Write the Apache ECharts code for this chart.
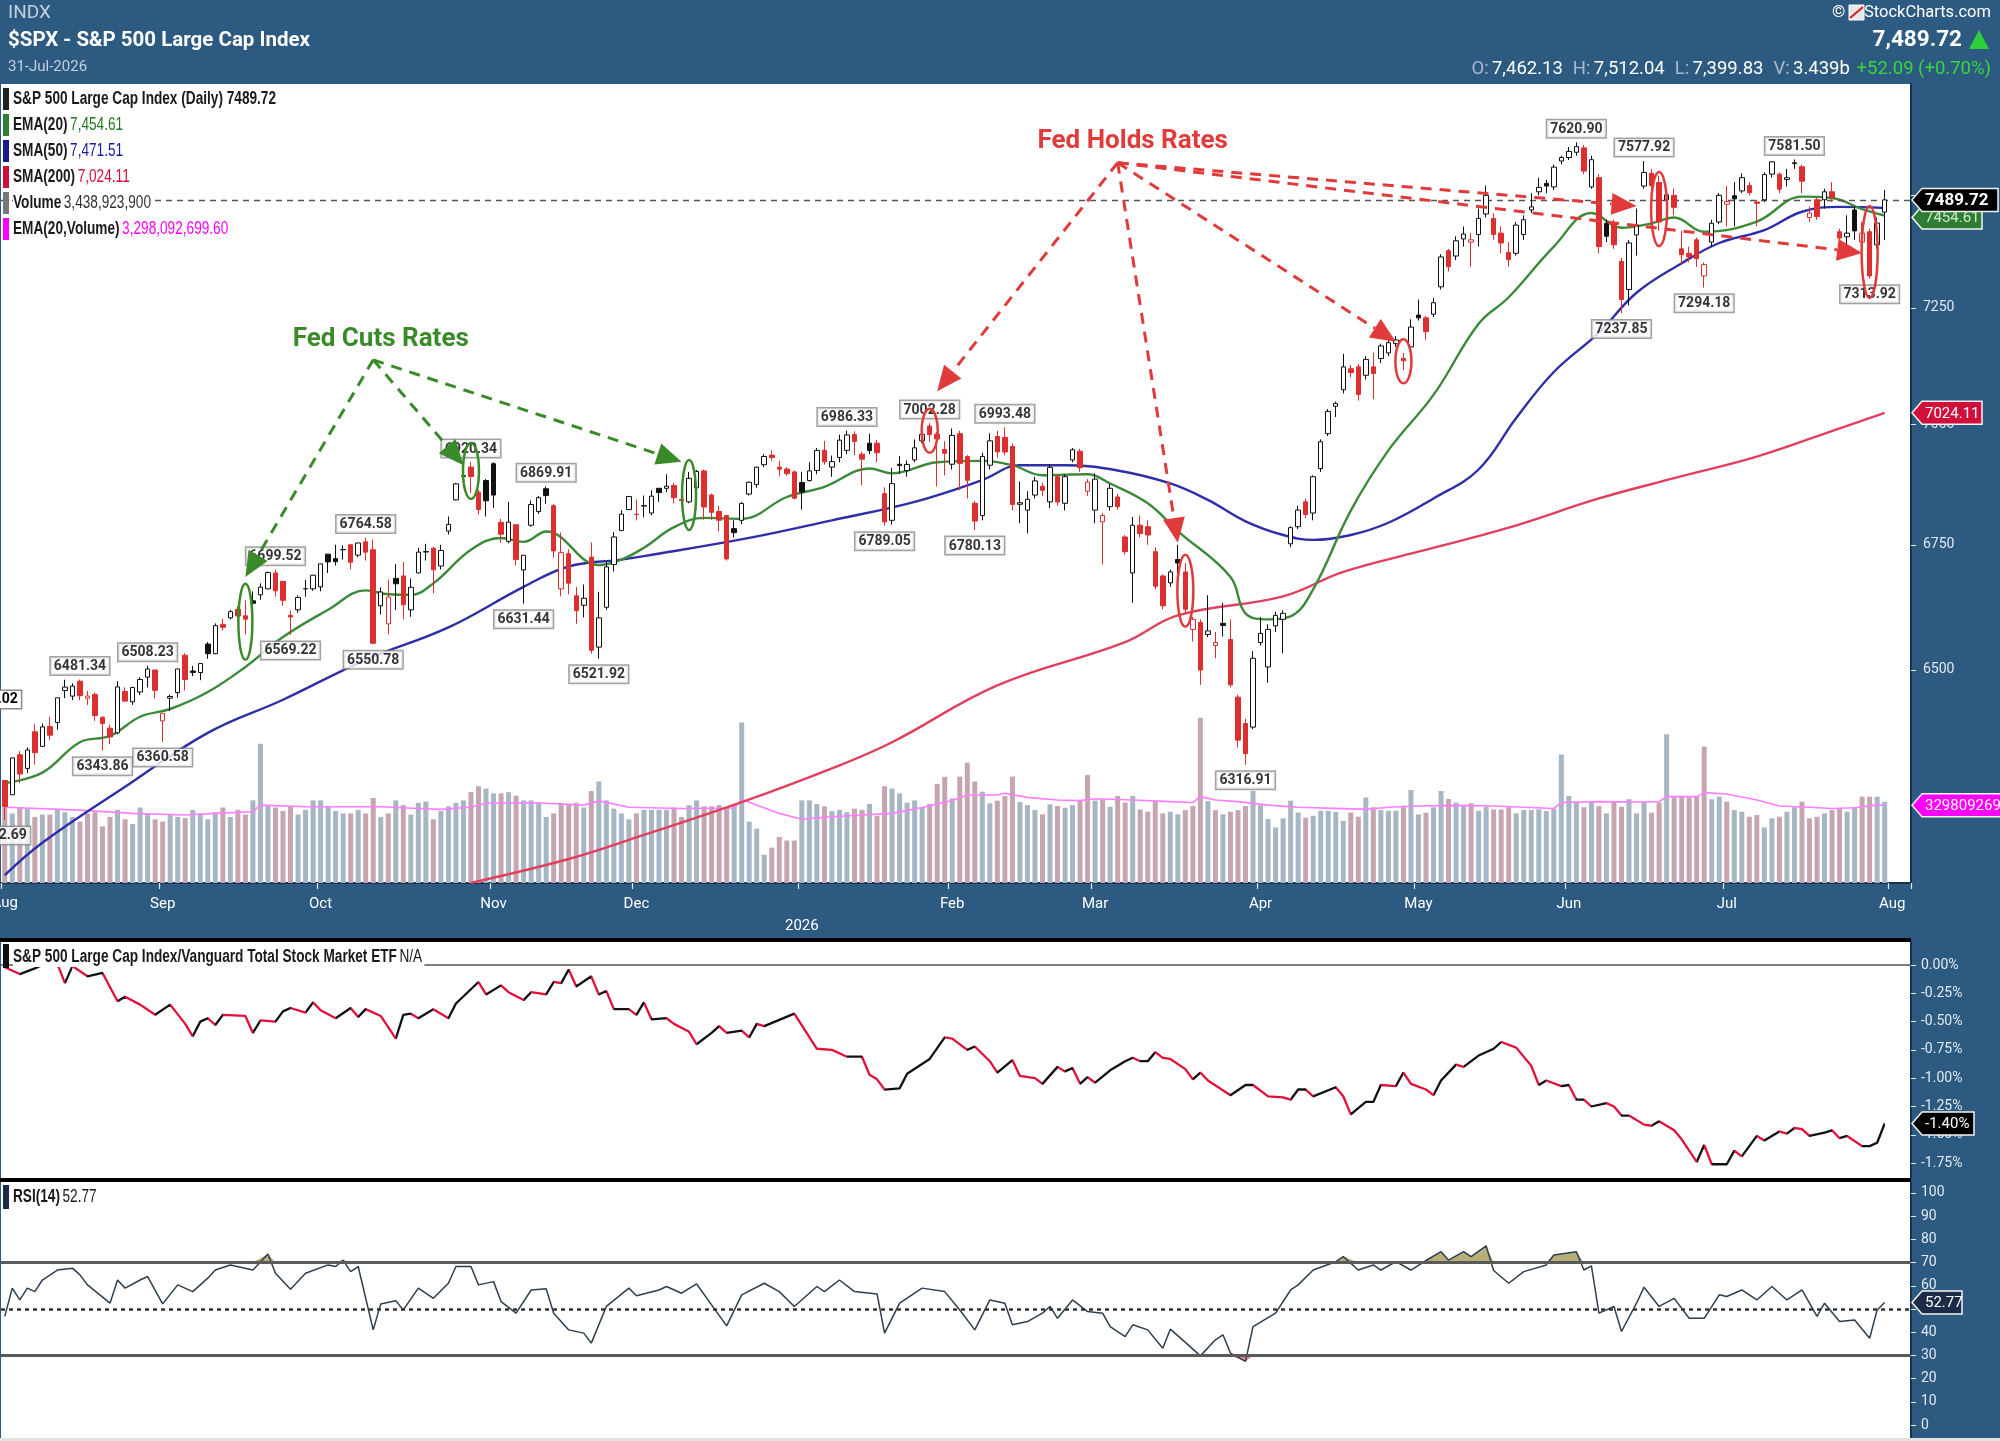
<!DOCTYPE html>
<html>
<head>
<meta charset="utf-8">
<title>$SPX - S&amp;P 500 Large Cap Index</title>
<script src="https://cdn.jsdelivr.net/npm/echarts@6/dist/echarts.min.js"></script>
<style>
  html, body { margin: 0; padding: 0; background: #2d5a81; }
  #chart { width: 2000px; height: 1441px; }
</style>
</head>
<body>
<div id="chart"></div>
<script>
// ---- values (daily bars 1-Aug-2025 .. 31-Jul-2026) ----
var opens = [
  6287,6260,6336,6310,6380,6352,6390,6398,6460,6449,
  6478,6445,6452,6408,6387,6378,6458,6438,6457,6486,
  6500,6401,6445,6456,6529,6498,6495,6551,6532,6590,
  6603,6620,6607,6637,6649,6661,6693,6676,6608,6619,
  6661,6661,6665,6731,6722,6740,6750,6729,6756,6740,
  6627,6591,6682,6687,6619,6693,6736,6743,6707,6778,
  6842,6892,6910,6858,6882,6917,6796,6757,6791,6699,
  6790,6818,6865,6830,6661,6732,6647,6628,6725,6545,
  6624,6710,6779,6822,6812,6830,6815,6866,6866,6872,
  6843,6838,6867,6902,6852,6818,6810,6783,6800,6854,
  6874,6915,6935,6910,6906,6900,6878,6882,6903,6945,
  6910,6930,6945,6978,6937,6960,6960,6855,6800,6916,
  6903,6925,6965,6996,6979,6947,6916,6980,6932,6835,
  6810,6914,6974,6972,6953,6833,6821,6852,6870,6838,
  6890,6835,6925,6943,6860,6821,6797,6828,6848,6766,
  6693,6790,6787,6736,6687,6673,6720,6695,6580,6594,
  6570,6548,6592,6560,6447,6396,6389,6554,6506,6587,
  6600,6752,6787,6838,6815,6907,6980,7038,7073,7118,
  7122,7104,7122,7140,7152,7172,7140,7165,7234,7228,
  7236,7296,7376,7364,7402,7395,7412,7458,7448,7415,
  7372,7370,7412,7467,7508,7527,7519,7578,7586,7598,
  7608,7519,7540,7437,7437,7352,7290,7411,7521,7550,
  7529,7490,7500,7380,7370,7400,7320,7395,7440,7480,
  7499,7510,7522,7485,7490,7548,7548,7536,7572,7565,
  7450,7490,7490,7508,7418,7407,7467,7395,7418,7389,
  7462.13
];
var highs = [
  6288,6330,6343,6350,6395,6396,6409,6446,6481,6474,
  6481.34,6459,6456,6410,6394,6478,6466,6467,6486,6508.23,
  6500,6416,6452,6502,6533,6508,6513,6555,6592,6601,
  6619,6626,6638,6656,6672,6696,6699.52,6676,6618,6648,
  6679,6689,6711,6731,6750,6749,6752,6754,6764.58,6761,
  6664,6680,6711,6715,6682,6744,6752,6746,6750,6808,
  6877,6899,6920.34,6863,6885,6920,6803,6838,6791,6729,
  6841,6850,6869.91,6834,6775,6741,6665,6670,6755,6655,
  6716,6776,6821,6849,6843,6851,6862,6866,6895,6877,
  6865,6900,6904,6905,6855,6830,6811,6800,6838,6880,
  6911,6937,6945,6923,6910,6903,6900,6920,6950,6965,
  6934,6978,6986.33,6985,6942,6980,6967,6868,6908,6933,
  6924,6968,6988,7002.28,6983,6964,6991,6986,6935,6840,
  6940,6981,6986,6993.48,6960,6880,6860,6890,6878,6915,
  6895,6895,6950,6948,6885,6897,6815,6875,6855,6770,
  6807,6810,6800,6745,6690,6700,6750,6713,6605,6600,
  6648,6575,6633,6600,6452,6405,6537,6605,6590,6615,
  6618,6788,6830,6845,6893,6968,7032,7048,7150,7126,
  7128,7145,7153,7172,7180,7188,7152,7225,7268,7232,
  7272,7368,7380,7408,7430,7415,7470,7522,7460,7430,
  7395,7440,7455,7505,7540,7535,7570,7590,7610,7620.90,
  7615,7590,7548,7445,7445,7360,7400,7470,7577.92,7560,
  7545,7510,7515,7420,7385,7405,7350,7445,7505,7521,
  7530,7550,7530,7490,7552,7577,7552,7560,7581.50,7570,
  7475,7495,7515,7530,7425,7455,7475,7440,7425,7450,
  7512.04
];
var lows = [
  6212.69,6260,6282,6301,6317,6352,6364,6384,6445,6441,
  6441,6432,6401,6343.86,6356,6375,6438,6432,6451,6466,
  6444,6360.58,6420,6446,6460,6488,6480,6522,6531,6578,
  6600,6603,6570,6611,6639,6660,6645,6627,6569.22,6613,
  6645,6657,6656,6693,6708,6720,6700,6725,6718,6550.78,
  6610,6570,6619,6600,6605,6692,6718,6652,6700,6771,
  6841,6868,6856,6812,6808,6825,6754,6753,6708,6631.44,
  6787,6813,6834,6724,6646,6650,6591,6604,6532,6521.92,
  6619,6696,6779,6822,6800,6806,6810,6838,6858,6835,
  6838,6835,6836,6801,6801,6778,6718,6765,6792,6851,
  6867,6910,6923,6891,6892,6843,6822,6880,6895,6915,
  6890,6920,6937,6935,6872,6937,6920,6789.05,6791,6896,
  6890,6920,6960,6963,6870,6893,6905,6862,6845,6780.13,
  6800,6905,6930,6935,6820,6794,6773,6845,6850,6825,
  6830,6820,6920,6900,6850,6794,6710,6820,6822,6730,
  6633,6765,6750,6660,6620,6665,6673,6610,6556,6471,
  6565,6523,6566,6466,6350,6316.91,6385,6548,6475,6575,
  6533,6745,6782,6805,6800,6900,6975,7015,7065,7100,
  7050,7095,7053,7130,7145,7165,7115,7160,7222,7180,
  7230,7290,7330,7355,7385,7340,7385,7450,7400,7370,
  7340,7365,7400,7460,7500,7505,7512,7570,7580,7590,
  7548,7515,7370,7395,7380,7237.85,7255,7365,7515,7505,
  7420,7470,7455,7345,7350,7340,7294.18,7385,7435,7430,
  7430,7505,7500,7430,7485,7540,7505,7520,7560,7505,
  7440,7445,7470,7485,7395,7385,7400,7380,7313.92,7380,
  7399.83
];
var closes = [
  6238.01,6329.94,6299.19,6345.06,6340.00,6389.45,6373.45,6445.76,6466.58,6468.54,
  6449.80,6449.15,6411.37,6395.78,6370.17,6466.91,6439.32,6465.94,6481.40,6501.86,
  6460.26,6415.54,6448.26,6502.08,6481.50,6495.15,6512.61,6532.04,6587.47,6584.29,
  6615.28,6606.76,6600.35,6631.96,6664.36,6693.75,6656.92,6637.97,6604.72,6643.70,
  6661.21,6688.46,6711.20,6715.35,6715.79,6740.28,6714.59,6753.72,6735.11,6552.51,
  6654.72,6644.31,6671.06,6629.07,6664.01,6735.13,6735.35,6699.40,6738.44,6791.69,
  6875.16,6890.89,6890.59,6822.34,6840.20,6851.97,6771.55,6796.29,6720.32,6728.80,
  6832.43,6846.61,6850.92,6737.49,6734.11,6672.41,6617.32,6642.16,6538.76,6602.99,
  6705.12,6765.88,6812.61,6849.09,6812.63,6829.37,6849.72,6857.12,6870.40,6846.51,
  6840.51,6886.68,6901.00,6827.41,6816.51,6800.26,6721.43,6774.76,6834.50,6878.49,
  6909.79,6932.05,6929.94,6905.74,6896.24,6845.50,6858.47,6902.05,6944.82,6920.93,
  6921.46,6966.28,6977.27,6963.74,6926.60,6944.47,6940.01,6796.86,6875.62,6913.35,
  6915.61,6950.23,6978.60,6978.03,6969.01,6939.03,6976.44,6917.81,6882.72,6798.40,
  6932.30,6964.82,6941.81,6941.47,6832.76,6836.17,6843.22,6881.31,6861.89,6909.51,
  6837.75,6890.07,6946.13,6908.86,6878.88,6885,6810,6866,6828,6736,
  6790,6773,6770,6666,6627,6695,6713,6620,6600,6500,
  6577,6554,6588,6471,6364,6338,6523,6572,6580,6608,
  6612,6785,6821,6812,6890,6963,7027,7044,7122,7110,
  7063,7138,7108,7167,7174,7180,7135,7208,7228,7198,
  7261,7362,7340,7398,7413,7400,7448,7500,7412,7393,
  7356,7433,7445,7474,7518,7521,7564,7586,7600,7611,
  7555,7581,7385,7408,7389,7268,7393,7433,7552,7522,
  7440,7501,7473,7367,7362,7358,7345,7437,7500,7486,
  7492,7540,7506,7482,7547,7576,7514,7540,7574,7532,
  7460,7452,7508,7495,7404,7415,7420,7415,7320,7437.63,
  7489.72
];
// volume, billions of shares
var volumes = [
  3.2,2.95,3.2,3.15,2.8,2.9,2.9,3.1,3.0,2.8,
  2.6,2.95,3.0,2.4,2.8,3.1,2.7,2.5,3.2,2.95,
  2.7,2.6,2.9,2.8,2.75,3.1,2.95,2.7,3.0,3.2,
  2.8,3.1,2.9,3.5,5.9,3.3,3.2,3.05,3.25,2.9,
  3.1,3.5,3.5,3.25,3.05,2.95,2.95,3.1,2.95,3.6,
  2.8,2.95,3.5,3.3,2.9,3.4,3.45,2.7,3.05,3.25,
  3.4,3.5,3.85,4.1,4.0,3.8,3.8,3.85,3.7,3.5,
  3.5,3.4,2.8,2.95,3.4,3.35,3.4,3.2,3.9,4.3,
  3.5,3.15,2.95,2.7,2.95,3.1,3.1,3.1,3.1,3.2,
  2.8,3.3,3.5,3.25,3.25,3.3,3.2,3.3,6.8,2.6,
  2.3,1.2,1.5,1.95,1.8,1.8,3.5,3.5,3.35,3.25,
  3.05,3.1,3.0,3.15,3.1,3.35,2.85,4.1,4.0,3.8,
  3.4,3.5,3.2,3.35,4.2,4.5,3.59,4.51,5.10,4.30,
  3.87,3.38,3.49,3.69,4.51,3.43,3.30,3.09,2.91,3.33,
  3.26,3.19,3.30,3.52,4.58,3.49,3.55,3.23,3.69,3.41,
  3.69,3.12,3.02,3.47,2.95,3.02,2.91,3.09,3.26,7.00,
  3.47,3.09,2.91,3.02,3.09,3.26,3.90,3.30,2.71,2.36,
  2.74,3.49,2.99,2.77,2.85,3.06,3.06,3.01,2.63,2.99,
  2.81,3.62,3.21,3.09,3.06,3.06,3.28,3.94,2.91,2.98,
  3.21,3.90,3.56,3.41,3.30,3.38,3.06,3.23,3.12,3.12,
  3.21,2.95,3.09,3.09,3.12,3.05,3.15,5.45,3.69,3.45,
  3.21,3.45,3.26,2.95,3.45,3.23,3.55,2.95,3.45,2.98,
  3.41,6.30,3.66,3.66,3.63,3.66,5.78,3.55,3.66,3.45,
  3.09,3.02,2.81,2.88,2.36,2.74,2.81,3.02,3.21,3.45,
  2.74,2.81,2.95,3.09,3.16,3.02,3.21,3.66,3.66,3.66,
  3.44
];
// overlays, [bar index, value]
var ema20 = [[0,6282],[5,6302],[10,6360],[14,6372],[18,6409],[22,6424],[27,6457],[32,6506],[37,6565],[43,6619],[48,6658],[51,6650],[54,6649],[57,6672],[62,6740],[66,6764],[69,6756],[72,6777],[79,6709],[82,6720],[85,6744],[89,6786],[93,6805],[98,6803],[104,6848],[109,6869],[115,6907],[118,6897],[124,6920],[130,6923],[134,6914],[138,6893],[144,6895],[147,6876],[152,6835],[156,6778],[163,6685],[165,6612],[168,6600],[171,6606],[174,6660],[179,6820],[184,6945],[190,7062],[196,7215],[200,7273],[206,7385],[211,7460],[215,7427],[219,7437],[222,7450],[226,7418],[233,7441],[239,7497],[243,7494],[247,7469],[250,7454.61]];
var sma50 = [[0,6110],[5,6170],[16,6275],[27,6378],[37,6442],[48,6520],[59,6584],[69,6665],[75,6706],[82,6720],[85,6727],[99,6764],[110,6800],[121,6838],[130,6883],[135,6914],[141,6914],[148,6903],[155,6876],[160,6842],[165,6798],[170,6770],[174,6760],[179,6770],[184,6795],[190,6845],[196,6905],[201,7013],[206,7111],[212,7196],[217,7283],[223,7348],[228,7393],[234,7422],[239,7463],[244,7474],[250,7471.51]];
var sma200 = [[62,6096],[75,6140],[84,6180],[98,6246],[110,6310],[118,6360],[132,6470],[149,6555],[156,6608],[170,6646],[178,6695],[188,6736],[200,6785],[212,6845],[222,6887],[233,6932],[242,6980],[250,7024.11]];
var volEma20 = [[0,3.21],[10,3.09],[17,2.95],[24,2.88],[28,2.95],[33,3.02],[34,3.30],[40,3.23],[50,3.23],[55,3.16],[58,3.12],[62,3.21],[64,3.38],[70,3.40],[72,3.38],[77,3.30],[79,3.48],[83,3.21],[90,3.16],[97,3.18],[98,3.54],[103,2.95],[106,2.70],[110,2.81],[114,2.88],[118,2.95],[122,3.2],[126,3.5],[128,3.73],[132,3.73],[133,3.80],[136,3.63],[140,3.52],[143,3.49],[145,3.57],[150,3.52],[155,3.45],[158,3.41],[159,3.66],[161,3.52],[164,3.45],[168,3.30],[172,3.21],[178,3.15],[181,3.12],[184,3.21],[188,3.26],[193,3.29],[198,3.26],[202,3.21],[206,3.16],[207,3.41],[212,3.45],[218,3.43],[220,3.45],[221,3.66],[225,3.66],[226,3.83],[229,3.77],[233,3.52],[236,3.26],[240,3.21],[243,3.16],[246,3.19],[249,3.30],[250,3.298]];
// $SPX / VTI relative, percent
var ratioPts = [[0,-0.02],[2,-0.08],[4,-0.03],[5,0.00],[7,0.01],[8,-0.16],[9,-0.01],[11,-0.10],[13,-0.07],[15,-0.32],[16,-0.28],[18,-0.35],[20,-0.44],[22,-0.35],[24,-0.52],[25,-0.63],[26,-0.50],[27,-0.47],[28,-0.53],[29,-0.44],[32,-0.45],[33,-0.60],[34,-0.49],[36,-0.50],[37,-0.41],[38,-0.38],[40,-0.42],[41,-0.33],[42,-0.40],[44,-0.47],[46,-0.38],[47,-0.46],[48,-0.39],[50,-0.45],[52,-0.65],[53,-0.44],[54,-0.43],[55,-0.47],[57,-0.39],[59,-0.47],[60,-0.34],[63,-0.15],[64,-0.26],[66,-0.18],[67,-0.24],[69,-0.31],[70,-0.24],[72,-0.26],[73,-0.15],[74,-0.16],[75,-0.04],[76,-0.19],[78,-0.10],[79,-0.26],[80,-0.23],[81,-0.39],[83,-0.39],[84,-0.44],[85,-0.33],[86,-0.48],[88,-0.47],[89,-0.52],[91,-0.59],[92,-0.70],[94,-0.60],[95,-0.54],[96,-0.60],[98,-0.58],[99,-0.64],[100,-0.52],[101,-0.54],[105,-0.43],[108,-0.74],[110,-0.75],[112,-0.81],[114,-0.81],[115,-0.97],[116,-1.01],[117,-1.10],[119,-1.09],[120,-0.96],[123,-0.83],[125,-0.64],[126,-0.65],[128,-0.75],[129,-0.72],[131,-0.85],[132,-0.95],[134,-0.84],[135,-0.98],[137,-1.00],[138,-1.05],[140,-0.90],[141,-0.94],[142,-0.91],[143,-1.05],[144,-0.99],[145,-1.04],[147,-0.93],[149,-0.85],[150,-0.82],[151,-0.85],[152,-0.85],[153,-0.77],[154,-0.82],[155,-0.83],[157,-0.92],[158,-1.01],[159,-0.95],[160,-1.02],[163,-1.15],[165,-1.06],[166,-1.06],[168,-1.16],[170,-1.17],[171,-1.19],[172,-1.10],[173,-1.10],[174,-1.16],[177,-1.08],[178,-1.16],[179,-1.32],[181,-1.21],[182,-1.21],[183,-1.06],[185,-1.07],[186,-0.95],[187,-1.05],[189,-1.10],[190,-1.15],[191,-1.02],[193,-0.88],[194,-0.90],[196,-0.80],[198,-0.74],[199,-0.68],[201,-0.73],[203,-0.89],[204,-1.06],[205,-1.02],[207,-1.07],[208,-1.06],[209,-1.19],[210,-1.19],[211,-1.25],[213,-1.22],[214,-1.25],[215,-1.33],[216,-1.33],[218,-1.41],[219,-1.42],[220,-1.38],[222,-1.46],[223,-1.54],[225,-1.74],[226,-1.59],[227,-1.76],[229,-1.76],[230,-1.64],[231,-1.69],[233,-1.51],[234,-1.55],[236,-1.47],[237,-1.49],[238,-1.44],[239,-1.45],[240,-1.51],[242,-1.48],[243,-1.46],[244,-1.53],[245,-1.51],[247,-1.60],[248,-1.60],[249,-1.57],[250,-1.40]];
var rsiPts = [[0,46.8],[1,59.0],[2,53.9],[3,59.0],[4,57.5],[5,62.5],[7,66.8],[9,67.6],[10,64.7],[11,60.4],[14,52.5],[15,62.5],[16,59.0],[18,62.5],[19,64.0],[21,52.2],[23,60.4],[25,57.5],[27,63.3],[28,66.8],[30,69.0],[33,66.8],[35,73.7],[36,65.4],[38,58.5],[40,65.4],[43,69.0],[44,68.3],[45,71.1],[46,66.1],[47,68.3],[49,41.0],[50,52.2],[52,53.6],[53,49.6],[55,59.0],[57,54.6],[59,61.1],[60,68.3],[62,68.3],[63,60.4],[65,61.8],[66,53.2],[68,48.2],[70,58.2],[72,58.7],[73,48.2],[75,41.0],[77,39.6],[78,35.3],[80,51.1],[83,59.0],[84,55.7],[87,58.2],[88,59.7],[90,56.8],[92,60.8],[94,51.8],[96,42.7],[98,56.1],[101,61.1],[103,57.5],[105,51.1],[108,59.7],[109,57.5],[111,62.5],[113,57.5],[116,56.5],[117,39.6],[119,52.5],[122,59.0],[125,57.5],[127,49.6],[129,41.0],[131,53.9],[133,52.5],[134,43.2],[136,44.6],[138,48.2],[139,51.1],[140,46.0],[142,53.9],[144,48.9],[146,48.2],[147,42.4],[149,38.1],[150,43.2],[152,41.0],[154,33.1],[155,41.3],[157,35.6],[159,29.8],[161,36.7],[162,38.9],[163,31.0],[165,27.4],[166,42.4],[169,48.2],[171,58.2],[172,60.4],[174,66.8],[177,70.4],[178,72.6],[180,66.8],[182,69.0],[183,66.8],[185,70.4],[187,66.8],[189,70.9],[191,74.7],[192,71.1],[194,74.7],[195,72.6],[197,77.2],[198,66.6],[200,61.1],[202,66.1],[205,69.0],[206,73.3],[209,74.7],[210,66.8],[211,68.6],[212,48.2],[214,51.1],[215,40.3],[217,52.5],[218,59.4],[220,51.1],[222,54.6],[224,46.0],[226,46.0],[228,56.1],[229,55.4],[231,58.2],[233,53.9],[235,59.7],[237,53.9],[239,58.2],[241,46.8],[242,52.5],[244,44.6],[246,45.3],[248,37.4],[249,49.6],[250,52.77]];
// labelled swing highs / lows
var highLabels = [[10,6481.34],[19,6508.23],[36,6699.52],[48,6764.58],[62,6920.34],[72,6869.91],[112,6986.33],[123,7002.28],[133,6993.48],[209,7620.90],[218,7577.92],[238,7581.50]];
var lowLabels = [[0,6212.69],[13,6343.86],[21,6360.58],[38,6569.22],[49,6550.78],[69,6631.44],[79,6521.92],[117,6789.05],[129,6780.13],[165,6316.91],[215,7237.85],[226,7294.18],[248,7313.92]];
// tick labels
var priceTicks = [6500, 6750, 7000, 7250, 7500];
var ratioTicks = [0, -0.25, -0.5, -0.75, -1, -1.25, -1.5, -1.75];
var rsiTicks = [0, 10, 20, 30, 40, 50, 60, 70, 80, 90, 100];
var monthNames = ['Jan','Feb','Mar','Apr','May','Jun','Jul','Aug','Sep','Oct','Nov','Dec'];
var holidays = ['2025-09-01','2025-11-27','2025-12-25','2026-01-01','2026-01-19','2026-02-16','2026-04-03','2026-05-25','2026-06-19','2026-07-03'];
// FOMC annotations: [bar, price at ellipse centre, rx, ry]
var cutMarks = [[32, 6595, 7, 38], [62, 6902, 8, 28], [91, 6852, 7, 35]];
var holdMarks = [[123, 6986, 8, 22], [157, 6657, 8, 36], [186, 7134, 8, 22], [220, 7469, 8, 37], [248, 7373, 8, 46]];
var cutArrowFrom = [48.7, 7137];
var cutArrowTo = [[32.3, 6685], [61.3, 6914], [90.3, 6921]];
var holdArrowFrom = [148.4, 7574];
var holdArrowTo = [[124.2, 7070], [155.8, 6754], [184.6, 7176], [217.1, 7476], [247.3, 7371]];

// ---- trading-day categories (3 empty August slots on the right) ----
var cats = [];
(function () {
  var d = new Date(Date.UTC(2025, 7, 1));
  while (cats.length < 254) {
    var wd = d.getUTCDay(), s = d.toISOString().slice(0, 10);
    if (wd !== 0 && wd !== 6 && holidays.indexOf(s) < 0) cats.push(s);
    d.setUTCDate(d.getUTCDate() + 1);
  }
})();
function isMonthStart(idx) {
  return idx === 0 || (cats[idx] && cats[idx].slice(5, 7) !== cats[idx - 1].slice(5, 7));
}
function monthLabel(val, idx) {
  if (idx === 0 || !isMonthStart(idx)) return '';   // first one is drawn by hand, half off-canvas
  var m = +cats[idx].slice(5, 7);
  return m === 1 ? '\n' + cats[idx].slice(0, 4) : monthNames[m - 1];
}

// condensed look: plain sans squeezed horizontally to the reference widths
var LF = 'Liberation Sans, Arial, sans-serif';
var LSIZE = 18;
function textWidth(font, s) {
  var c = document.createElement('canvas').getContext('2d');
  c.font = font; return c.measureText(s).width;
}
var squeeze = 263 / textWidth('bold ' + LSIZE + 'px ' + LF, 'S&P 500 Large Cap Index (Daily) 7489.72');

var RED = '#dc2f2f', INK = '#111';
var candleData = closes.map(function (c, i) {
  var o = opens[i];
  var up = i > 0 && c >= closes[i - 1];
  var edge = up ? INK : RED;
  var fill = c >= o ? '#fff' : edge;
  return { value: [o, c, lows[i], highs[i]],
           itemStyle: { color: fill, color0: fill, borderColor: edge, borderColor0: edge, borderWidth: 1 } };
});
var volData = volumes.map(function (v, i) {
  var up = i > 0 && closes[i] >= closes[i - 1];
  return { value: v, itemStyle: { color: up ? '#a7b6c5' : '#c5a6b0' } };
});
var ratioPieces = [];
for (var k = 0; k < ratioPts.length - 1; k++) {
  var a = ratioPts[k], b = ratioPts[k + 1];
  var piece = { gte: a[0], color: b[1] < a[1] ? '#e0103a' : '#111' };
  if (k === ratioPts.length - 2) piece.lte = b[0]; else piece.lt = b[0];
  ratioPieces.push(piece);
}
// RSI bands: stacked bases so the fill sits between the line and 70 / 30
var obBase = rsiPts.map(function (p) { return [p[0], 70]; });
var obTop = rsiPts.map(function (p) { return [p[0], Math.max(p[1] - 70, 0)]; });
var osBase = rsiPts.map(function (p) { return [p[0], Math.min(p[1], 30)]; });
var osTop = rsiPts.map(function (p) { return [p[0], 30 - Math.min(p[1], 30)]; });
var lowData = lowLabels.map(function (p) {
  return p[0] === 0 ? { value: p, label: { offset: [-4, 0] } } : p;
});

var PL = 1, PW = 1910;
var boxLabel = {
  show: true, formatter: function (p) { return p.value[1].toFixed(2); },
  color: '#000', fontWeight: 'bold', fontSize: 14, fontFamily: 'Roboto',
  backgroundColor: '#fff', borderColor: '#8a8a8a', borderWidth: 1.5, padding: [2, 3, 1, 3]
};
var axisText = { color: '#e3e9f0', fontSize: 14, fontFamily: 'Roboto' };
var hidden = { showSymbol: false, silent: true, lineStyle: { width: 0 } };

var chart = echarts.init(document.getElementById('chart'), null, { renderer: 'canvas', width: 2000, height: 1441 });
var option = {
  animation: false,
  backgroundColor: '#2d5a81',
  grid: [
    { left: PL, top: 84, width: PW, height: 799, show: true, backgroundColor: '#fff', borderWidth: 0 },
    { left: PL, top: 84, width: PW, height: 799 },
    { left: PL, top: 942, width: PW, height: 236, show: true, backgroundColor: '#fff', borderWidth: 0 },
    { left: PL, top: 1182, width: PW, height: 256, show: true, backgroundColor: '#fff', borderWidth: 0 }
  ],
  xAxis: [0, 1, 2, 3].map(function (g) {
    return {
      type: 'category', gridIndex: g, data: cats, boundaryGap: true, show: g === 0,
      axisLine: { show: true, lineStyle: { color: '#163452', width: 2 } },
      axisTick: { show: true, interval: isMonthStart, length: 6, lineStyle: { color: '#e3e9f0', width: 1.2 } },
      axisLabel: { show: true, interval: isMonthStart, formatter: monthLabel, color: '#fff',
                   fontSize: 15, fontFamily: 'Roboto', margin: 10, lineHeight: 22 },
      splitLine: { show: false }
    };
  }),
  yAxis: [
    { type: 'log', logBase: 10, gridIndex: 0, position: 'right', min: 6095.7, max: 7756,
      axisLine: { show: true, lineStyle: { color: '#163452', width: 2 } },
      axisTick: { show: true, length: 5, customValues: priceTicks, lineStyle: { color: '#e3e9f0' } },
      axisLabel: Object.assign({ customValues: priceTicks, margin: 12,
                   formatter: function (v) { return String(Math.round(v)); } }, axisText),
      splitLine: { show: false } },
    { type: 'value', gridIndex: 1, min: 0, max: 33.86, show: false, splitLine: { show: false } },
    { type: 'value', gridIndex: 2, position: 'right', min: -1.8816, max: 0.2032,
      axisLine: { show: true, lineStyle: { color: '#163452', width: 2 } },
      axisTick: { show: true, length: 5, customValues: ratioTicks, lineStyle: { color: '#e3e9f0' } },
      axisLabel: Object.assign({ customValues: ratioTicks, margin: 10,
                   formatter: function (v) { return v.toFixed(2) + '%'; } }, axisText),
      splitLine: { show: false } },
    { type: 'value', gridIndex: 3, position: 'right', min: -5.6, max: 104.74,
      axisLine: { show: true, lineStyle: { color: '#163452', width: 2 } },
      axisTick: { show: true, length: 5, customValues: rsiTicks, lineStyle: { color: '#e3e9f0' } },
      axisLabel: Object.assign({ customValues: rsiTicks, margin: 10 }, axisText),
      splitLine: { show: false } }
  ],
  visualMap: [
    { type: 'piecewise', show: false, dimension: 0, seriesIndex: 8, pieces: ratioPieces }
  ],
  series: [
    { type: 'bar', name: 'Volume', xAxisIndex: 1, yAxisIndex: 1, data: volData, barWidth: 5, z: 1 },
    { type: 'line', name: 'EMA(20,Volume)', xAxisIndex: 1, yAxisIndex: 1, data: volEma20, showSymbol: false,
      lineStyle: { color: '#ff7dff', width: 1.6 }, z: 2 },
    { type: 'line', name: 'SMA(200)', data: sma200, showSymbol: false, smooth: 0.4,
      lineStyle: { color: '#e0405e', width: 2.4 }, z: 3 },
    { type: 'line', name: 'SMA(50)', data: sma50, showSymbol: false, smooth: 0.4,
      lineStyle: { color: '#2e2ea8', width: 2.4 }, z: 3 },
    { type: 'line', name: 'EMA(20)', data: ema20, showSymbol: false, smooth: 0.4,
      lineStyle: { color: '#3a8a3a', width: 2.4 }, z: 3 },
    { type: 'candlestick', name: '$SPX', data: candleData, barWidth: 5, z: 5,
      markLine: { silent: true, symbol: 'none', label: { show: false },
                  lineStyle: { type: [6, 5], color: '#555', width: 1.4 },
                  data: [{ yAxis: 7489.72 }] } },
    { type: 'scatter', data: highLabels, symbolSize: 0.1, itemStyle: { color: 'rgba(0,0,0,0)' }, z: 8,
      label: Object.assign({ position: 'top', distance: 5 }, boxLabel) },
    { type: 'scatter', data: lowData, symbolSize: 0.1, itemStyle: { color: 'rgba(0,0,0,0)' }, z: 8,
      label: Object.assign({ position: 'bottom', distance: 7 }, boxLabel) },
    { type: 'line', name: 'ratio', xAxisIndex: 2, yAxisIndex: 2, data: ratioPts, showSymbol: false,
      lineStyle: { width: 2.3 }, z: 4,
      markLine: { silent: true, symbol: 'none', label: { show: false },
                  lineStyle: { type: 'solid', color: '#555', width: 1.6 }, data: [{ yAxis: 0 }] } },
    Object.assign({ type: 'line', xAxisIndex: 3, yAxisIndex: 3, data: obBase, stack: 'ob', z: 2 }, hidden),
    Object.assign({ type: 'line', xAxisIndex: 3, yAxisIndex: 3, data: obTop, stack: 'ob', z: 2,
                    areaStyle: { color: '#b7ae78', opacity: 1 } }, hidden),
    Object.assign({ type: 'line', xAxisIndex: 3, yAxisIndex: 3, data: osBase, stack: 'os', z: 2 }, hidden),
    Object.assign({ type: 'line', xAxisIndex: 3, yAxisIndex: 3, data: osTop, stack: 'os', z: 2,
                    areaStyle: { color: '#e38797', opacity: 1 } }, hidden),
    { type: 'line', name: 'RSI(14)', xAxisIndex: 3, yAxisIndex: 3, data: rsiPts, showSymbol: false,
      lineStyle: { color: '#2c3e50', width: 1.5 }, z: 4,
      markLine: { silent: true, symbol: 'none', label: { show: false },
                  data: [
                    { yAxis: 70, lineStyle: { type: 'solid', color: '#5a5a5a', width: 3 } },
                    { yAxis: 30, lineStyle: { type: 'solid', color: '#5a5a5a', width: 3 } },
                    { yAxis: 50, lineStyle: { type: [4, 4], color: '#333', width: 2.5 } }
                  ] } }
  ]
};
chart.setOption(option);

// ---- overlays placed through the chart's own scales ----
function P(i, v) { return chart.convertToPixel({ xAxisIndex: 0, yAxisIndex: 0 }, [i, v]); }
function Y(ax, v) { return chart.convertToPixel({ yAxisIndex: ax }, v); }
var g = [];
function txt(x, y, text, font, fill, extra) {
  var st = { text: text, x: x, y: y, font: font, fill: fill, textVerticalAlign: 'middle' };
  for (var key in extra) st[key] = extra[key];
  g.push({ type: 'text', z: 200, style: st });
}
function tag(y, text, fill, color, w, font) {
  var x0 = 1912, h = 23, x1 = x0 + w;
  g.push({ type: 'polygon', z: 190, shape: { points: [[x0, y], [x0 + 10, y - h / 2], [x1, y - h / 2], [x1, y + h / 2], [x0 + 10, y + h / 2]] },
           style: { fill: fill, stroke: '#f4f4f4', lineWidth: 1.5 } });
  txt(x0 + 13, y + 1, text, font, color);
}
function arrow(p0, p1, color) {
  var dx = p1[0] - p0[0], dy = p1[1] - p0[1], len = Math.sqrt(dx * dx + dy * dy);
  var ux = dx / len, uy = dy / len, hl = 25, hw = 11;
  var bx = p1[0] - ux * hl, by = p1[1] - uy * hl;
  g.push({ type: 'line', z: 150, shape: { x1: p0[0], y1: p0[1], x2: bx, y2: by },
           style: { stroke: color, lineWidth: 3, lineDash: [11, 8] } });
  g.push({ type: 'polygon', z: 150, shape: { points: [[p1[0], p1[1]], [bx - uy * hw, by + ux * hw], [bx + uy * hw, by - ux * hw]] },
           style: { fill: color } });
}
function ring(m, color) {
  var c = P(m[0], m[1]);
  g.push({ type: 'ellipse', z: 150, shape: { cx: c[0], cy: c[1], rx: m[2], ry: m[3] },
           style: { fill: 'none', stroke: color, lineWidth: 2.5 } });
}
function rs(color, bold) { return { fill: color, fontFamily: LF, fontSize: LSIZE, fontWeight: bold ? 'bold' : 'normal' }; }
function squeezed(x, y, text, rich, bg) {
  var st = { x: 0, y: 0, textVerticalAlign: 'middle', text: text, rich: rich };
  if (bg) { st.backgroundColor = '#fff'; st.padding = [1, 3, 1, 0]; }
  g.push({ type: 'text', z: 200, x: x, y: y, scaleX: squeeze, style: st });
}

// header
txt(8, 13, 'INDX', '19px Roboto', '#c3d0de');
txt(8, 41, '$SPX - S&P 500 Large Cap Index', 'bold 20.5px Roboto', '#fff');
txt(8, 67, '31-Jul-2026', '15px Roboto', '#c3d0de');
txt(1832, 13, '\u00a9', '17px Roboto', '#fff');
g.push({ type: 'rect', z: 200, shape: { x: 1849, y: 5, width: 15, height: 15 }, style: { fill: '#e8e8e8', stroke: '#fff', lineWidth: 1 } });
g.push({ type: 'line', z: 201, shape: { x1: 1850, y1: 18, x2: 1863, y2: 7 }, style: { stroke: '#d02020', lineWidth: 2 } });
txt(1991, 13, 'StockCharts.com', '16.5px Roboto', '#fff', { textAlign: 'right' });
txt(1962, 40, '7,489.72', 'bold 22.5px Roboto', '#fff', { textAlign: 'right' });
g.push({ type: 'polygon', z: 200, shape: { points: [[1969, 49], [1979, 30], [1989, 49]] }, style: { fill: '#2fcf3a' } });
g.push({ type: 'text', z: 200, style: {
  x: 1991, y: 69, textAlign: 'right', textVerticalAlign: 'middle',
  text: '{l|O:} {v|7,462.13}   {l|H:} {v|7,512.04}   {l|L:} {v|7,399.83}   {l|V:} {v|3.439b}  {c|+52.09 (+0.70%)}',
  rich: { l: { fill: '#a9bacb', font: '18.5px Roboto' }, v: { fill: '#fff', font: '18.5px Roboto' }, c: { fill: '#39d739', font: '18.5px Roboto' } }
} });

// panel separators
g.push({ type: 'rect', z: 120, shape: { x: 0, y: 938, width: 1911, height: 4 }, style: { fill: '#000' } });
g.push({ type: 'rect', z: 120, shape: { x: 0, y: 1178, width: 1911, height: 4 }, style: { fill: '#000' } });
g.push({ type: 'rect', z: 120, shape: { x: 0, y: 1438, width: 2000, height: 3 }, style: { fill: '#e2e2e2' } });

// first month label, centred on bar 0 so it runs off the left edge
txt(P(0, 7000)[0], 903, 'Aug', '15px Roboto', '#fff', { textAlign: 'center' });

// legend
var legendRows = [
  ['#222', '{b|S&P 500 Large Cap Index (Daily) 7489.72}'],
  ['#2e7d32', '{b|EMA(20)} {g|7,454.61}'],
  ['#1a1a8c', '{b|SMA(50)} {n|7,471.51}'],
  ['#d0103a', '{b|SMA(200)} {r|7,024.11}'],
  ['#777', '{b|Volume} {k|3,438,923,900}'],
  ['#ff00ff', '{b|EMA(20,Volume)} {m|3,298,092,699.60}']
];
var legendRich = { b: rs('#1a1a1a', true), g: rs('#1f7a1f'), n: rs('#1a1aa0'), r: rs('#d0103a'), k: rs('#333'), m: rs('#ff00ff') };
legendRows.forEach(function (r, n) {
  var yc = 99 + n * 26;
  g.push({ type: 'rect', z: 200, shape: { x: 3, y: yc - 11, width: 6, height: 22 }, style: { fill: r[0] } });
  squeezed(13, yc, r[1], legendRich, true);
});
// panel titles
g.push({ type: 'rect', z: 200, shape: { x: 3, y: 944, width: 6, height: 24 }, style: { fill: '#111' } });
squeezed(13, 957, '{b|S&P 500 Large Cap Index/Vanguard Total Stock Market ETF} {n|N/A}',
         { b: rs('#1a1a1a', true), n: rs('#1a1a1a') }, true);
g.push({ type: 'rect', z: 200, shape: { x: 3, y: 1185, width: 6, height: 24 }, style: { fill: '#1c2c48' } });
squeezed(13, 1197, '{b|RSI(14)} {n|52.77}', { b: rs('#1a1a1a', true), n: rs('#1a1a1a') }, false);

// FOMC annotations
cutArrowTo.forEach(function (t) { arrow(P(cutArrowFrom[0], cutArrowFrom[1]), P(t[0], t[1]), '#3a8a2a'); });
holdArrowTo.forEach(function (t) { arrow(P(holdArrowFrom[0], holdArrowFrom[1]), P(t[0], t[1]), '#e03a3a'); });
cutMarks.forEach(function (m) { ring(m, '#3a8a2a'); });
holdMarks.forEach(function (m) { ring(m, '#e03a3a'); });
var tc = P(49.5, 7182), th = P(149.5, 7622);
txt(tc[0], tc[1], 'Fed Cuts Rates', 'bold 26px Roboto', '#3a8a2a', { textAlign: 'center' });
txt(th[0], th[1], 'Fed Holds Rates', 'bold 26px Roboto', '#e03a3a', { textAlign: 'center' });

// value tags on the right axis
tag(Y(0, 7454.61) + 2, '7454.61', '#2e7d32', '#cfe9cf', 70, '15px Roboto');
tag(Y(0, 7489.72), '7489.72', '#000', '#fff', 86, 'bold 17px Roboto');
tag(Y(0, 7024.11), '7024.11', '#d0103a', '#fff', 70, '15px Roboto');
tag(Y(1, 3.298), '3298092699.60', '#ff00ff', '#fff', 120, '15px Roboto');
tag(Y(2, -1.40), '-1.40%', '#000', '#fff', 62, '15px Roboto');
tag(Y(3, 52.77), '52.77', '#1c2c48', '#fff', 50, '15px Roboto');
// cut-off label of the prior bar's high at the left edge
var lp = P(0, 6427.02);
g.push({ type: 'text', z: 160, style: { x: lp[0] - 13, y: lp[1] - 8, textAlign: 'center', textVerticalAlign: 'middle',
  text: '6427.02', font: 'bold 14px Roboto', fill: '#000', backgroundColor: '#fff', borderColor: '#8a8a8a', borderWidth: 1.5, padding: [2, 3, 1, 3] } });

chart.setOption({ graphic: { elements: g } });
</script>
</body>
</html>
